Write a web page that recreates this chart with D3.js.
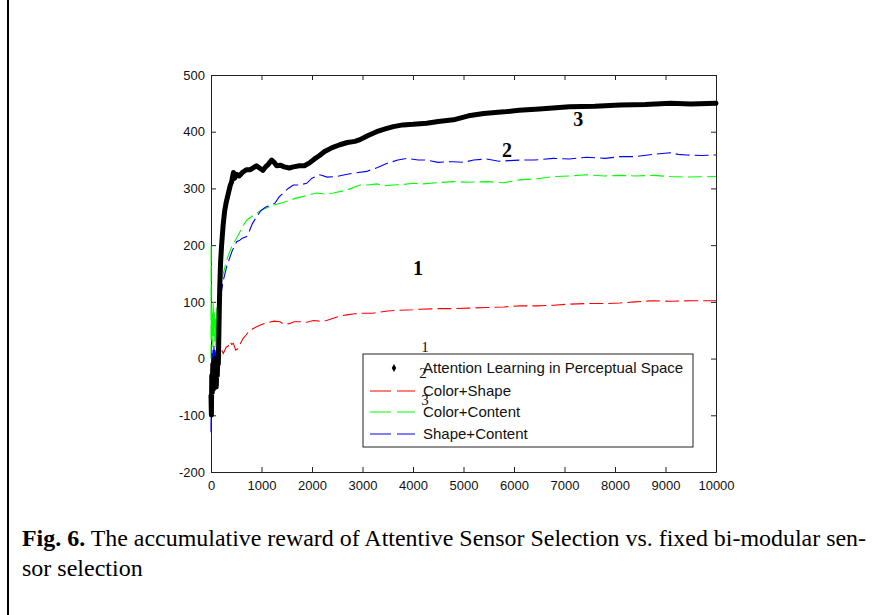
<!DOCTYPE html>
<html><head><meta charset="utf-8">
<script src="https://cdn.jsdelivr.net/npm/d3@7"></script>
<style>body{margin:0;background:#fff}svg{display:block}</style>
</head><body>
<script>
// ---- data ----
const xTicks = [0,1000,2000,3000,4000,5000,6000,7000,8000,9000,10000];
const yTicks = [-200,-100,0,100,200,300,400,500];
const seriesNames = ["Attention Learning in Perceptual Space","Color+Shape","Color+Content","Shape+Content"];
const seriesColors = ["#000000","#ff0000","#00ff00","#0000ff"];

const attention = [[0,-65],[8,-100],[15,-30],[25,-60],[35,-10],[45,-55],[55,-20],[65,-45],[75,0],[85,-40],[95,-10],[105,-50],[115,-15],[125,-30],[135,10],[145,-10],[155,40],[165,90],[175,130],[190,170],[210,200],[240,235],[270,260],[300,275],[340,290],[380,305],[410,312],[430,322],[445,328],[470,318],[500,325],[560,322],[620,328],[700,333],[780,333],[850,337],[900,340],[960,336],[1030,332],[1080,338],[1130,342],[1200,350],[1250,346],[1300,340],[1370,341],[1450,338],[1550,336],[1630,338],[1750,340],[1850,340],[1950,345],[2050,352],[2150,358],[2250,365],[2400,372],[2550,377],[2700,381],[2850,383],[2950,386],[3100,393],[3280,400],[3450,405],[3610,409],[3800,412],[4000,413],[4270,415],[4500,418],[4800,421],[5100,428],[5400,432],[5800,435],[6100,438],[6500,440],[7100,444],[7600,445],[8100,447],[8600,448],[9100,450],[9500,449],[10000,450]];

const colorShape = [[40,-50],[55,-15],[65,-45],[75,-20],[85,-40],[95,-10],[105,-35],[115,-5],[130,5],[145,9],[180,0],[210,15],[244,9],[300,20],[340,22],[376,30],[410,25],[442,27],[490,15],[541,18],[590,28],[640,36],[700,42],[739,47],[820,52],[904,56],[1000,60],[1102,63],[1250,66],[1366,65],[1450,60],[1564,62],[1650,65],[1762,65],[1900,64],[2026,67],[2150,66],[2290,67],[2422,71],[2550,75],[2686,77],[2850,79],[3016,80],[3200,80],[3346,82],[3500,84],[3676,85],[4007,86],[4139,87],[4500,88],[4799,88],[5100,89],[5459,90],[5800,91],[6119,93],[6450,93],[6779,94],[7100,96],[7439,97],[7800,97],[8099,98],[8400,100],[8759,102],[9100,101],[9500,102],[10000,102]];

const colorContent = [[0,0],[2,200],[5,40],[12,90],[20,30],[28,80],[36,20],[45,100],[55,40],[65,85],[75,30],[85,70],[95,20],[105,90],[115,40],[125,80],[135,60],[150,100],[180,125],[210,140],[244,150],[310,174],[409,197],[541,218],[620,232],[707,244],[800,250],[904,256],[1000,262],[1168,268],[1300,272],[1498,277],[1650,282],[1828,286],[2092,292],[2250,290],[2422,292],[2686,297],[2950,306],[3100,306],[3280,308],[3450,305],[3610,306],[3800,307],[4007,309],[4200,308],[4469,310],[4799,312],[5100,311],[5459,312],[5789,310],[6119,315],[6450,317],[6779,321],[7100,322],[7439,324],[7800,322],[8099,323],[8400,322],[8759,323],[9100,321],[9419,320],[10000,321]];

const shapeContent = [[0,-130],[3,-60],[10,-20],[20,10],[30,-30],[40,20],[50,-10],[60,25],[70,-20],[80,15],[90,-40],[100,0],[110,-25],[120,20],[130,-10],[140,30],[150,5],[160,60],[175,95],[190,110],[211,121],[250,140],[310,162],[360,175],[420,190],[508,206],[560,208],[620,212],[707,215],[760,225],[820,238],[904,250],[980,260],[1050,265],[1102,268],[1180,270],[1267,274],[1350,285],[1432,292],[1530,300],[1630,306],[1750,306],[1894,309],[2000,318],[2158,324],[2300,320],[2488,321],[2650,324],[2818,327],[3082,330],[3300,337],[3478,344],[3700,350],[3874,353],[4100,350],[4271,350],[4500,346],[4667,347],[4800,347],[5000,346],[5200,350],[5459,352],[5700,348],[5900,349],[6119,350],[6400,350],[6779,353],[7100,352],[7439,355],[7800,353],[8099,356],[8400,356],[8759,360],[9089,363],[9250,360],[9419,359],[9700,358],[10000,359]];

const curveLabels = [{t:"1",x:4100,y:160},{t:"2",x:5860,y:368},{t:"3",x:7270,y:422}];
const smallLabels = ["1","2","3"];
const captionBold = "Fig. 6.";
const captionRest1 = " The accumulative reward of Attentive Sensor Selection vs. fixed bi-modular sen-";
const captionLine2 = "sor selection";

// ---- drawing ----
const W = 885, H = 615;
const svg = d3.select("body").append("svg").attr("width", W).attr("height", H);
const L = 211, R = 716, T = 75, B = 472;
const x = d3.scaleLinear().domain([0,10000]).range([L,R]);
const y = d3.scaleLinear().domain([-200,500]).range([B,T]);

// outer left rule
svg.append("line").attr("x1",8).attr("x2",8).attr("y1",0).attr("y2",H)
  .attr("stroke","#000").attr("stroke-width",2);

const axisColor = "#222";
const tickFont = "'Liberation Sans', Arial, sans-serif";
const fmt = d => String(d);

// axes
const gx = svg.append("g").attr("transform",`translate(0,${B})`)
  .call(d3.axisBottom(x).tickValues(xTicks).tickFormat(fmt).tickSizeInner(-5).tickSizeOuter(0).tickPadding(9));
const gxt = svg.append("g").attr("transform",`translate(0,${T})`)
  .call(d3.axisTop(x).tickValues(xTicks).tickFormat("").tickSizeInner(-5).tickSizeOuter(0));
const gy = svg.append("g").attr("transform",`translate(${L},0)`)
  .call(d3.axisLeft(y).tickValues(yTicks).tickFormat(fmt).tickSizeInner(-5).tickSizeOuter(0).tickPadding(6));
const gyr = svg.append("g").attr("transform",`translate(${R},0)`)
  .call(d3.axisRight(y).tickValues(yTicks).tickFormat("").tickSizeInner(-5).tickSizeOuter(0));
[gx,gxt,gy,gyr].forEach(g=>{
  g.select(".domain").attr("stroke",axisColor);
  g.selectAll(".tick line").attr("stroke",axisColor);
  g.selectAll(".tick text").attr("fill","#111").style("font-family",tickFont).style("font-size","13px");
});

// curve labels (under the lines)
const serif = "'Liberation Serif','Times New Roman',serif";
svg.selectAll("text.clab").data(curveLabels).enter().append("text")
  .attr("class","clab").attr("x",d=>x(d.x)).attr("y",d=>y(d.y)+7)
  .attr("text-anchor","middle").style("font-family",serif).style("font-weight","bold")
  .style("font-size","20px").text(d=>d.t);

const line = d3.line().x(d=>x(d[0])).y(d=>y(d[1]));
const dashed = [colorShape, colorContent, shapeContent];
dashed.forEach((s,i)=>{
  svg.append("path").datum(s).attr("d",line).attr("fill","none")
    .attr("stroke",seriesColors[i+1]).attr("stroke-width",1.1)
    .attr("stroke-dasharray","14,5");
});
svg.append("path").datum(attention).attr("d",line).attr("fill","none")
  .attr("stroke","#000").attr("stroke-width",5).attr("stroke-linejoin","round").attr("stroke-linecap","round");

// legend
const lg = svg.append("g");
lg.append("rect").attr("x",363).attr("y",354).attr("width",330).attr("height",93)
  .attr("fill","#fff").attr("stroke",axisColor).attr("stroke-width",1);
const rows = [368,391,412,434];
seriesNames.forEach((n,i)=>{
  if(i===0){
    lg.append("path").attr("d",d3.symbol(d3.symbolDiamond,18)()).attr("transform",`translate(394,${rows[i]})`).attr("fill","#000");
  } else {
    lg.append("line").attr("x1",370).attr("x2",415).attr("y1",rows[i]).attr("y2",rows[i])
      .attr("stroke",seriesColors[i]).attr("stroke-width",1.1).attr("stroke-dasharray","21,6");
  }
  lg.append("text").attr("x",423).attr("y",rows[i]+5).style("font-family",tickFont)
    .style("font-size","15px").attr("fill","#111").text(n);
});

// small overlapping labels
const smallY = [352,378,405];
svg.selectAll("text.slab").data(smallLabels).enter().append("text").attr("class","slab")
  .attr("x",(d,i)=>[425,423,425][i]).attr("y",(d,i)=>smallY[i]).attr("text-anchor","middle")
  .style("font-family",serif).style("font-size","15px").attr("fill","#111").text(d=>d);

// caption
const cap = svg.append("text").attr("x",22).attr("y",546).style("font-family",serif).style("font-size","24px").attr("fill","#000")
  .attr("textLength",844).attr("lengthAdjust","spacingAndGlyphs");
cap.append("tspan").style("font-weight","bold").text(captionBold);
cap.append("tspan").text(captionRest1);
svg.append("text").attr("x",22).attr("y",576).style("font-family",serif).style("font-size","24px").attr("fill","#000").text(captionLine2);
</script>
</body></html>
